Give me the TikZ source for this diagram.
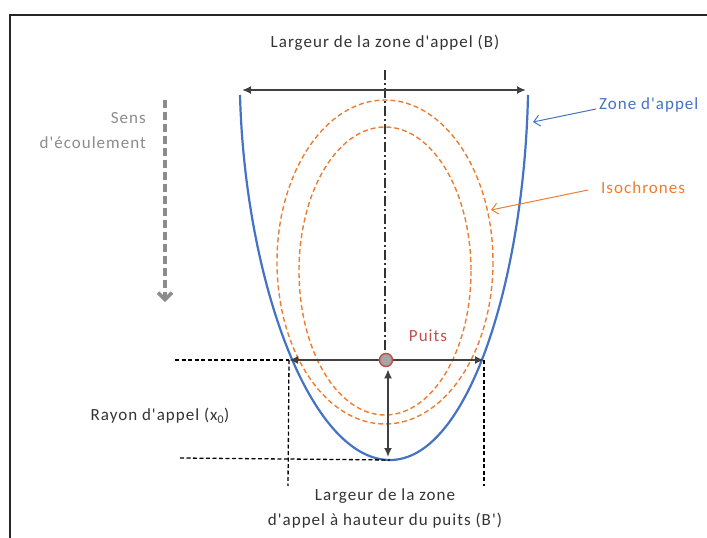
\documentclass[tikz,border=0pt]{standalone}
\usepackage{fontspec}
\setmainfont{Carlito}[LetterSpace=6, Ligatures=TeXOff]
\usetikzlibrary{positioning,arrows.meta,calc}
\definecolor{zoneblue}{RGB}{68,114,196}
\definecolor{isoorange}{RGB}{237,125,49}
\definecolor{puitsred}{RGB}{192,80,77}

\begin{document}
\begin{tikzpicture}[
    x=1pt, y=-1pt,
    txt/.style={font=\fontsize{17}{25}\selectfont, text=black!80, inner sep=0pt},
    dim/.style={draw=black!75, line width=2pt, {Latex[length=9pt,width=8pt]}-{Latex[length=9pt,width=8pt]}},
    guide/.style={draw=black, line width=1.3pt, dash pattern=on 4pt off 2.5pt},
    iso/.style={draw=isoorange, line width=1.4pt, dash pattern=on 5pt off 3pt},
    callout/.style={line width=1pt, -{Straight Barb[length=6pt,width=11pt]}}
]
\useasboundingbox (0,0) rectangle (707,538);
% cadre
\draw[line width=2.5pt, black!85] (707,15) -| (10,538);

% axe
\draw[line width=1.4pt, black!80, dash pattern=on 10pt off 3pt on 2pt off 3pt] (385,70) -- (385,352);

% isochrones
\draw[iso] (385,262) ellipse [x radius=108, y radius=162];
\draw[iso] (385,271) ellipse [x radius=86, y radius=144];

% zone d'appel
\coordinate (zl) at (240,95);
\coordinate (zb) at (390,460);
\coordinate (zr) at (528,95);
\draw[zoneblue, line width=2.2pt] (zl) .. controls (245,280) and (310,460) .. (zb)
    .. controls (468,460) and (524,280) .. (zr);

% largeur B
\coordinate (bl) at (242,90);
\coordinate (br) at (526,90);
\node[txt] (titre) at (385,43) {Largeur de la zone d'appel (B)};
\draw[dim] (bl) -- (br);

% puits
\coordinate (wl) at (289,360);
\coordinate (wr) at (484,360);
\coordinate (bot) at (388,457);
\draw[dim] (wl) -- (wr);
\node[circle, draw=puitsred, fill=black!35, line width=1.5pt, minimum size=13pt, inner sep=0pt] (puits) at (386,360) {};
\draw[dim] ($(puits.south)+(2,2)$) -- (bot);
\node[txt, text=puitsred] (lpuits) at (428,336) {Puits};

% lignes de rappel
\coordinate (gl) at (175,360);
\coordinate (gb) at (180,458);
\coordinate (dl) at (288,486);
\coordinate (dr) at (484,486);
\draw[guide] (gl) -- (wl);
\draw[guide] (gb) -- (zb);
\draw[guide] (wl) -- (dl);
\draw[guide] (wr) -- (dr);

\node[txt] (rayon) at (160,416) {Rayon d'appel (x\textsubscript{0})};
\node[txt, align=center] (lbp) at (385,508) {Largeur de la zone\\d'appel à hauteur du puits (B')};

% sens d'ecoulement
\node[txt, text=black!45, align=right, anchor=east] (sens) at (146,131) {Sens\\d'écoulement};
\coordinate (fa) at (165,100);
\coordinate (fb) at (165,302);
\draw[black!45, line width=3.5pt, dash pattern=on 8pt off 4pt, -{Straight Barb[length=7pt,width=14pt]}] (fa) -- (fb);

% legendes
\node[txt, text=zoneblue, anchor=west] (lzone) at (599,105) {Zone d'appel};
\node[txt, text=isoorange, anchor=west] (liso) at (601,188) {Isochrones};
\coordinate (pz) at (533,122);
\coordinate (pi) at (491,210);
\draw[callout, zoneblue] ($(lzone.west)+(-3,4)$) -- (pz);
\draw[callout, isoorange] ($(liso.west)+(-13,2)$) -- (pi);
\end{tikzpicture}
\end{document}
